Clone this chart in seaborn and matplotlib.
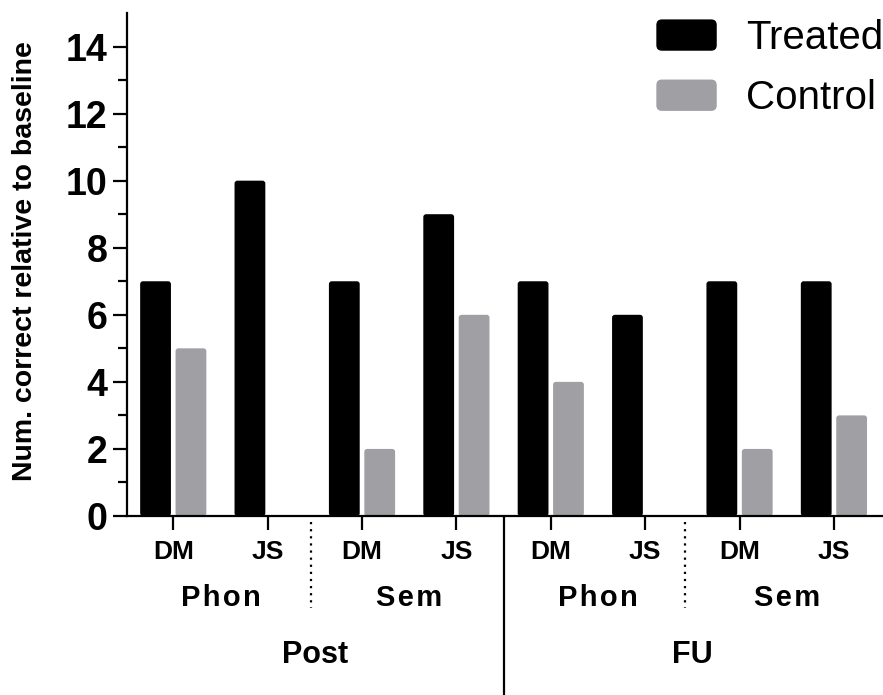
import matplotlib
matplotlib.use("Agg")
import matplotlib.pyplot as plt
import matplotlib.transforms as mtransforms
from matplotlib.patches import FancyBboxPatch, Patch
from matplotlib.legend_handler import HandlerPatch
import seaborn as sns
import pandas as pd
import numpy as np

# --- Data
phases = ["Post", "Post", "Post", "Post", "FU", "FU", "FU", "FU"]
tasks = ["Phon", "Phon", "Sem", "Sem", "Phon", "Phon", "Sem", "Sem"]
subjects = ["DM", "JS", "DM", "JS", "DM", "JS", "DM", "JS"]
treated = [7, 10, 7, 9, 7, 6, 7, 7]
control = [5, 0, 2, 6, 4, 0, 2, 3]
conditions = ["Treated", "Control"]
colors = ["#000000", "#a0a0a4"]

groups = [f"{p}-{t}-{s}" for p, t, s in zip(phases, tasks, subjects)]
df = pd.DataFrame({
    "Group": groups * 2,
    "Value": treated + control,
    "Condition": ["Treated"] * len(groups) + ["Control"] * len(groups),
})

# --- Style
sns.set_style("ticks")
plt.rcParams['font.family'] = ['Liberation Sans', 'DejaVu Sans']
plt.rcParams['axes.unicode_minus'] = False
for key in ["text.color", "axes.labelcolor", "xtick.color", "ytick.color", "axes.edgecolor"]:
    plt.rcParams[key] = "black"


class RoundHandler(HandlerPatch):
    """Legend handle drawn as a rounded box."""
    def create_artists(self, legend, orig_handle, xdescent, ydescent,
                       width, height, fontsize, trans):
        p = FancyBboxPatch((-xdescent, -ydescent), width, height,
                           boxstyle="round,pad=0,rounding_size=4",
                           facecolor=orig_handle.get_facecolor(),
                           linewidth=0, transform=trans)
        return [p]


fig = plt.figure(figsize=(8.83, 6.95), dpi=100)
ax_pos = [127 / 883, 179 / 695, 756 / 883, 503 / 695]
ax = fig.add_axes(ax_pos)

sns.barplot(data=df, x="Group", y="Value", hue="Condition",
            order=groups, hue_order=conditions,
            palette=colors, saturation=1,
            width=0.75, gap=0.13, linewidth=0, ax=ax, legend=False)

xlim = (-0.49, 7.52)
ylim = (0, 15)
ax.set_xlim(*xlim)
ax.set_ylim(*ylim)

# Rounded bar tops
px_x = ax_pos[2] * 883 / (xlim[1] - xlim[0])
px_y = ax_pos[3] * 695 / (ylim[1] - ylim[0])
aspect = px_x / px_y
for bar in list(ax.patches):
    h = bar.get_height()
    if h > 0:
        rb = FancyBboxPatch((bar.get_x(), bar.get_y()), bar.get_width(), h,
                            boxstyle="round,pad=0,rounding_size=0.03",
                            mutation_aspect=aspect,
                            facecolor=bar.get_facecolor(), linewidth=0, zorder=2)
        ax.add_patch(rb)
    bar.remove()

sns.despine(ax=ax)
for sp in ["left", "bottom"]:
    ax.spines[sp].set_linewidth(1.6)
    ax.spines[sp].set_zorder(3)

# Y axis
ax.set_yticks(np.arange(0, 15, 2))
ax.set_yticks(np.arange(1, 15, 2), minor=True)
ax.tick_params(axis="y", which="major", length=10, width=1.6, labelsize=27, pad=4)
ax.tick_params(axis="y", which="minor", length=6.5, width=1.6)
for lbl in ax.get_yticklabels():
    lbl.set_fontweight("bold")
ax.set_ylabel("Num. correct relative to baseline", fontsize=20.5, fontweight="bold")
ax.yaxis.set_label_coords(-0.118, 0.506)

# X axis
ax.set_xticks(range(len(groups)))
ax.set_xticklabels(subjects, fontsize=19, fontweight="bold")
ax.tick_params(axis="x", length=10, width=1.6, pad=7)
ax.set_xlabel("")

# Group labels below the axis
trans = mtransforms.blended_transform_factory(ax.transData, ax.transAxes)
for i in range(0, len(groups), 2):
    ax.text(i + 0.5, -0.163, "\u200a".join(tasks[i]), transform=trans,
            ha="center", va="center", fontsize=21, fontweight="bold")
for i in range(0, len(groups), 4):
    ax.text(i + 1.5, -0.276, phases[i], transform=trans,
            ha="center", va="center", fontsize=22, fontweight="bold")

# Separators
for xpos in [1.46, 5.42]:
    ax.plot([xpos, xpos], [-0.012, -0.183], transform=trans, color="black",
            linestyle=(0, (1, 2.2)), linewidth=1.6, clip_on=False)
ax.plot([3.5, 3.5], [0, -0.36], transform=trans, color="black",
        linewidth=1.6, clip_on=False)

# Legend
handles = [Patch(facecolor=c, label=l) for c, l in zip(colors, conditions)]
ax.legend(handles=handles, loc="upper right", bbox_to_anchor=(1.0, 0.988),
          frameon=False, fontsize=29, handlelength=1.5, handleheight=0.82,
          handletextpad=0.72, labelspacing=0.55, borderpad=0.0,
          borderaxespad=0.0, handler_map={Patch: RoundHandler()})

plt.savefig("out.png", dpi=100)
plt.close()
